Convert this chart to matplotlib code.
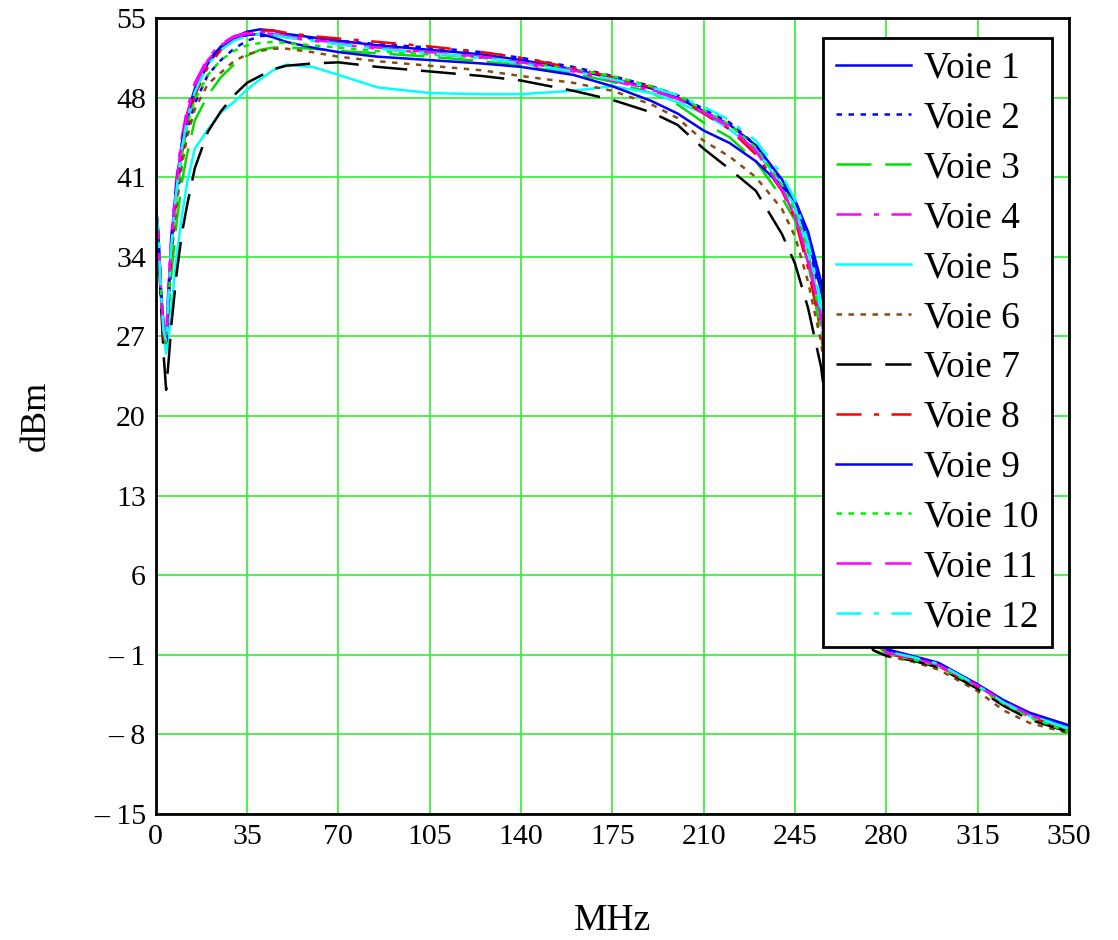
import matplotlib
matplotlib.use('Agg')
import matplotlib.pyplot as plt
import numpy as np

# channel output level vs frequency, 12 channels (Voie 1..12)

plt.rcParams['font.family'] = ['Liberation Serif', 'DejaVu Serif']

# frequency samples (MHz)
freq = [0, 1, 2, 3, 4, 5, 6, 8, 10, 12, 15, 20, 25, 30, 35, 40, 45, 50, 60, 70,
        85, 105, 125, 140, 160, 175, 190, 200, 210, 220, 230, 240, 245, 250, 255,
        260, 265, 270, 275, 280, 290, 300, 315, 325, 335, 350]

voie1 = [38.5, 36, 31, 27.5, 26.5, 31, 35, 40, 43.5, 46, 48.5, 51, 52.4, 53.3, 53.8, 54.0, 53.9, 53.6, 53.3, 53.0,
         52.6, 52.2, 51.8, 51.3, 50.5, 49.7, 48.8, 48.0, 46.8, 45.6, 43.8, 40.8, 38.8, 35.5, 31,
         22, 12, 5, 1, -0.7, -1.3, -1.9, -3.7, -5.2, -6.3, -7.4]
voie2 = [38.3, 35.5, 30.5, 27, 26.2, 30, 34, 39, 42.5, 45, 47.5, 50, 51.3, 52.3, 53, 53.4, 53.5, 53.4, 53.2, 53.0,
         52.7, 52.4, 52.0, 51.5, 50.7, 49.9, 49.0, 48.2, 47.0, 45.8, 43.8, 40.6, 38.4, 35, 30,
         21, 11.5, 4.8, 1, -0.6, -1.2, -1.8, -3.6, -5.1, -6.3, -7.3]
voie3 = [38.7, 36.3, 31.5, 28, 26.8, 29.5, 32.5, 37, 40.5, 43, 46, 48.2, 49.8, 50.9, 51.7, 52.2, 52.4, 52.4, 52.3, 52.1,
         51.9, 51.6, 51.2, 50.8, 50.1, 49.4, 48.4, 47.4, 45.8, 44.5, 42.4, 39.2, 37.2, 33.5, 27.2,
         18, 9.5, 3.5, 0.3, -1.0, -1.5, -2.1, -3.9, -5.4, -6.6, -7.7]
voie4 = [38.6, 36.2, 31.5, 28, 27, 32, 36, 41, 44.5, 47, 49.3, 51.5, 52.7, 53.4, 53.7, 53.8, 53.6, 53.3, 53.0, 52.7,
         52.3, 51.9, 51.5, 51.0, 50.3, 49.5, 48.6, 47.9, 46.8, 45.5, 43.5, 40.0, 37.5, 33.5, 28.5,
         20, 11, 4.5, 0.8, -0.9, -1.4, -2.0, -3.6, -5.0, -6.2, -7.4]
voie5 = [38.2, 35.5, 30.5, 27, 25.5, 27, 29.5, 34, 37.5, 40.5, 43.5, 45.2, 46.7, 47.6, 48.7, 49.6, 50.4, 50.9, 50.7, 50.0,
         48.9, 48.4, 48.3, 48.3, 48.6, 49.0, 48.4, 47.6, 46.6, 45.2, 43.4, 40.3, 38.4, 34.5, 29.2,
         20, 10.5, 4.5, 0.8, -0.8, -1.2, -1.8, -3.6, -5.1, -6.3, -7.4]
voie6 = [38.4, 35.8, 30.8, 27.2, 26.3, 30, 34, 38.5, 42, 44.5, 47, 49.2, 50.2, 51.2, 51.8, 52.1, 52.3, 52.3, 52.0, 51.6,
         51.2, 50.8, 50.4, 49.9, 49.3, 48.6, 47.4, 46.2, 44.2, 42.8, 41.0, 38.2, 35.8, 31.8, 26.5,
         17, 8, 2, -0.6, -1.1, -1.6, -2.3, -4.2, -5.9, -7.0, -7.9]
voie7 = [38.0, 35.2, 30, 25.5, 22.3, 25, 28, 32.5, 36, 38.5, 41.8, 45, 46.8, 48.2, 49.3, 49.9, 50.5, 50.8, 51.0, 51.1,
         50.7, 50.3, 49.9, 49.5, 48.6, 47.8, 46.7, 45.6, 43.5, 41.7, 39.8, 36.0, 33.4, 29.5, 24.3,
         15, 7, 1.5, -0.6, -1.1, -1.5, -2.1, -4.0, -5.5, -6.7, -7.8]
voie8 = [38.4, 35.8, 30.5, 27, 26, 30.5, 34.5, 39.5, 43, 45.5, 48.2, 50.7, 52.2, 53.1, 53.6, 53.9, 53.9, 53.7, 53.4, 53.2,
         52.9, 52.5, 52.0, 51.5, 50.6, 49.8, 48.9, 48.0, 46.6, 45.2, 43.0, 39.8, 37.3, 33, 27.5,
         19, 10, 4, 0.5, -0.9, -1.4, -2.0, -3.8, -5.3, -6.5, -7.6]
voie9 = [38.5, 36, 31.2, 27.5, 26.5, 31, 35.5, 40.5, 44, 46.5, 48.8, 51.2, 52.5, 53.2, 53.5, 53.6, 53.3, 52.9, 52.4, 52.0,
         51.6, 51.3, 51.0, 50.7, 50.0, 49.0, 47.7, 46.6, 45.1, 44.0, 42.4, 40.2, 39.0, 36.2, 31.8,
         23, 13, 6, 1.5, -0.5, -1.1, -1.7, -3.6, -5.0, -6.1, -7.2]
voie10 = [38.5, 36, 31, 27.5, 26.5, 30.5, 34.5, 39.5, 43, 45.5, 47.8, 50, 51.3, 52.1, 52.6, 52.8, 52.9, 52.8, 52.6, 52.4,
          52.1, 51.8, 51.5, 51.1, 50.5, 49.9, 49.0, 48.2, 46.9, 45.6, 43.6, 40.3, 38.0, 34.5, 28.0,
          19, 10, 4, 0.5, -0.9, -1.4, -2.0, -3.8, -5.3, -6.5, -7.8]
voie11 = [38.6, 36, 31, 27.8, 26.8, 31.5, 35.5, 40.5, 44, 46.5, 49, 51.3, 52.6, 53.3, 53.6, 53.7, 53.6, 53.4, 53.1, 52.8,
          52.4, 52.0, 51.6, 51.1, 50.4, 49.6, 48.7, 47.9, 46.7, 45.4, 43.3, 39.9, 37.6, 33.8, 28.8,
          20, 11, 4.5, 0.8, -0.8, -1.3, -1.9, -3.7, -5.1, -6.3, -7.5]
voie12 = [38.5, 36, 31, 27.5, 26.5, 31, 35, 40, 43.5, 46, 48.5, 50.9, 52.2, 53.0, 53.4, 53.6, 53.5, 53.3, 53.0, 52.7,
          52.3, 51.9, 51.5, 51.0, 50.3, 49.6, 48.9, 48.2, 47.2, 46.0, 44.2, 41.2, 39.0, 35.3, 30.0,
          21, 11.5, 5, 1, -0.7, -1.2, -1.8, -3.7, -5.2, -6.4, -7.5]

channels = [voie1, voie2, voie3, voie4, voie5, voie6, voie7, voie8, voie9, voie10, voie11, voie12]
labels = ['Voie {}'.format(i + 1) for i in range(len(channels))]

# mathcad-like trace styles (dash lengths in units of linewidth)
dot = (0, (2.2, 2.6))
dash = (0, (14, 5.5))
dashdot = (0, (10, 5, 2, 5))
colors = ['#0000ff', '#0000ff', '#00e000', '#ff00ff', '#00ffff', '#8b4a14',
          '#000000', '#ff0000', '#0000ff', '#00f000', '#ff00ff', '#00ffff']
styles = ['-', dot, dash, dashdot, '-', dot, dash, dashdot, '-', dot, dash, dashdot]

xticks = np.arange(0, 351, 35)
yticks = np.arange(-15, 56, 7)

fig = plt.figure(figsize=(11.18, 9.40), dpi=100)
ax = fig.add_axes([155.7 / 1118, 1 - 814 / 940, (1069 - 155.7) / 1118, (814 - 18) / 940])

for ys, lab, c, ls in zip(channels, labels, colors, styles):
    ax.plot(freq, ys, color=c, linestyle=ls, lw=1.8, label=lab)

ax.set_xlim(0, 350)
ax.set_ylim(-15, 55)
ax.set_xticks(xticks)
ax.set_yticks(yticks)
ax.set_yticklabels(['– {}'.format(-v) if v < 0 else str(v) for v in yticks])
ax.tick_params(length=0, labelsize=21.5, pad=7)
ax.grid(True, color='#30ee30', lw=1.2)
ax.set_axisbelow(True)
for sp in ax.spines.values():
    sp.set_linewidth(2)
    sp.set_color('black')

ax.set_xlabel('MHz', fontsize=27)
ax.xaxis.set_label_coords(0.5, -0.112)
ax.set_ylabel('dBm', fontsize=26)
ax.yaxis.set_label_coords(-0.113, 0.5)

# legend box sits over the roll-off, as in the original
leg = ax.legend(loc='upper right', bbox_to_anchor=(1052 / 1118, 1 - 38 / 940),
                bbox_transform=fig.transFigure, borderaxespad=0, fontsize=27,
                handlelength=2.0, handletextpad=0.35, labelspacing=0.41,
                borderpad=0.35, fancybox=False, framealpha=1, edgecolor='black')
leg.get_frame().set_linewidth(2)

plt.savefig('out.png', dpi=100)
